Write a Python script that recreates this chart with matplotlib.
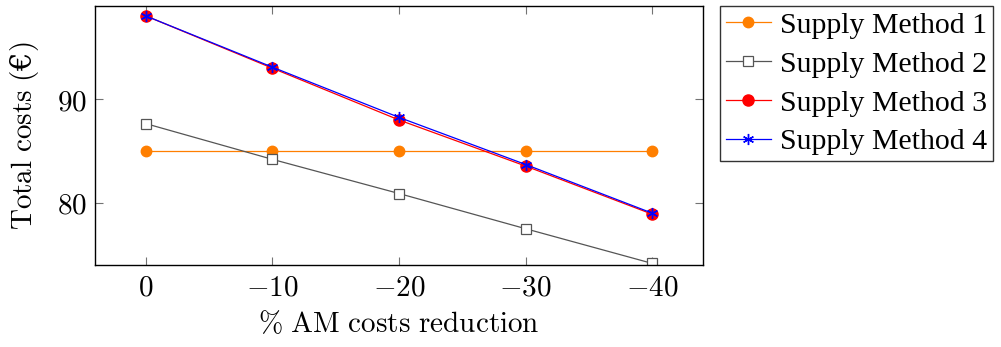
import matplotlib
matplotlib.use("Agg")
import matplotlib.pyplot as plt

plt.rcParams['mathtext.fontset'] = 'cm'
plt.rcParams['font.family'] = ['DejaVu Serif']

# data
reduction = [0, -10, -20, -30, -40]
method1 = [85.0, 85.0, 85.0, 85.0, 85.0]
method2 = [87.65, 84.2, 80.9, 77.5, 74.15]
method3 = [98.05, 93.0, 88.0, 83.55, 78.9]
method4 = [98.05, 93.1, 88.25, 83.7, 79.0]
xticks = [0, -10, -20, -30, -40]
yticks = [80, 90]

fig = plt.figure(figsize=(10.01, 3.47), dpi=100)
ax = fig.add_axes([95/1001, 82/347, 608/1001, 259/347])

ax.plot(reduction, method1, color='#ff7f00', lw=0.9, marker='o', ms=7.5,
        label='Supply Method 1')
ax.plot(reduction, method2, color='#555555', lw=0.9, marker='s', ms=7.5,
        mfc='white', mec='#555555', mew=0.9, label='Supply Method 2')
ax.plot(reduction, method3, color='red', lw=0.9, marker='o', ms=8,
        label='Supply Method 3')
ax.plot(reduction, method4, color='blue', lw=0.9, marker=(6, 2, 0), ms=8,
        mew=1.0, label='Supply Method 4')

ax.set_xlim(4, -44)
ax.set_ylim(74.0, 99.0)
ax.set_xticks(xticks)
ax.set_xticklabels(['$%d$' % v if v == 0 else '$-%d$' % -v for v in xticks])
ax.set_yticks(yticks)
ax.set_yticklabels(['$%d$' % v for v in yticks])
ax.tick_params(direction='in', top=True, right=True, length=6, width=0.8,
               color='0.45', labelsize=21, pad=6)
for s in ax.spines.values():
    s.set_linewidth(1.0)

ax.set_xlabel(r'$\%\ \mathrm{AM\ costs\ reduction}$', fontsize=21, labelpad=6)
ax.set_ylabel(r'$\mathrm{Total\ costs\ (}$€$\mathrm{)}$', fontsize=21, labelpad=11)

leg = fig.legend(loc='upper left', bbox_to_anchor=(720/1001, 1 - 6/347),
                 prop={'family': 'Liberation Serif', 'size': 21.5},
                 frameon=True, fancybox=False, edgecolor='black',
                 handlelength=1.5, handletextpad=0.3, borderpad=0.2,
                 labelspacing=0.4, borderaxespad=0)
leg.get_frame().set_linewidth(1.0)

fig.savefig('out.png', dpi=100)
